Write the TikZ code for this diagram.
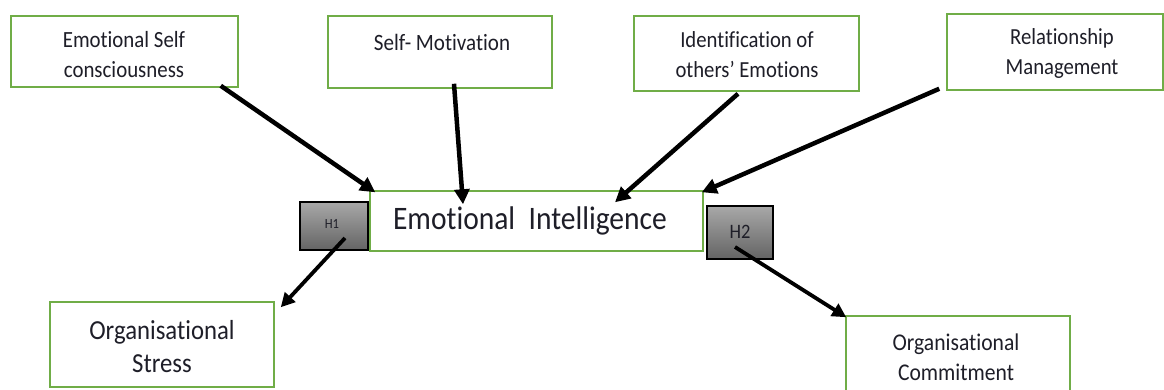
\documentclass[tikz,border=0pt]{standalone}
\usepackage{fontspec}
\setmainfont{Carlito}[FakeStretch=0.9, Ligatures=NoCommon]
\usetikzlibrary{arrows.meta}
\definecolor{boxgreen}{RGB}{112,173,71}
\definecolor{txtcol}{RGB}{30,30,40}
\definecolor{htop}{RGB}{168,168,168}
\definecolor{hbot}{RGB}{100,100,100}
\tikzset{
  gbox/.style={draw=boxgreen, line width=1.5pt, fill=white, inner sep=0pt},
  hbox/.style={draw=black, line width=1.6pt, top color=htop, bottom color=hbot, inner sep=0pt},
  lbl/.style={inner sep=0pt, align=center, text=txtcol},
  bigarrow/.style={line width=4.5pt, -{Triangle[length=15pt,width=15pt]}},
  harrow/.style={line width=3.8pt, -{Triangle[length=14pt,width=14pt]}},
}
\begin{document}
\begin{tikzpicture}[x=1pt,y=-1pt]
\useasboundingbox (0,0) rectangle (1164,389);
\clip (0,0) rectangle (1164,389);
% boxes
\node[gbox, minimum width=227pt, minimum height=71pt] (b1) at (124.5,51.5) {};
\node[gbox, minimum width=224pt, minimum height=72pt] (b2) at (440,52) {};
\node[gbox, minimum width=225pt, minimum height=75pt] (b3) at (746.5,53.5) {};
\node[gbox, minimum width=216pt, minimum height=76pt] (b4) at (1055,52) {};
\node[gbox, minimum width=333pt, minimum height=60pt] (ei) at (536.5,221) {};
\node[hbox, minimum width=68pt, minimum height=48pt] (h1) at (334,226) {};
\node[hbox, minimum width=66pt, minimum height=53pt] (h2) at (740,232.5) {};
\node[gbox, minimum width=224pt, minimum height=85pt] (os) at (162,344.5) {};
\node[gbox, minimum width=224pt, minimum height=80pt] (oc) at (958,356) {};
% texts
\node[lbl, font=\fontsize{23.2}{30}\selectfont] (t1) at (124,55) {Emotional Self\\consciousness};
\node[lbl, font=\fontsize{23.4}{30}\selectfont, anchor=base] (t2) at (442,50) {Self- Motivation};
\node[lbl, font=\fontsize{23}{30}\selectfont] (t3) at (747,55) {Identification of\\others’ Emotions};
\node[lbl, font=\fontsize{23}{30}\selectfont] (t4) at (1062,53) {Relationship\\Management};
\node[lbl, font=\fontsize{32.8}{34}\selectfont, anchor=base] (t5) at (530,229) {Emotional\ \ Intelligence};
\node[lbl, font=\fontsize{14}{14}\selectfont, anchor=base] (t6) at (332,228) {H1};
\node[lbl, font=\fontsize{20.5}{22}\selectfont, anchor=base] (t7) at (740,238) {H2};
\node[lbl, font=\fontsize{27.5}{33}\selectfont] (t8) at (162,347) {Organisational\\Stress};
\node[lbl, font=\fontsize{24}{30}\selectfont] (t9) at (956,357) {Organisational\\Commitment};
% arrows
\draw[bigarrow] ([shift={(-18,-2)}]b1.south east) -- ([shift={(6,2)}]ei.north west);
\draw[bigarrow] ([shift={(14,-5)}]b2.south) -- ([shift={(-73.5,14)}]ei.north);
\draw[bigarrow] ([shift={(-8.5,2)}]b3.south) -- ([shift={(78.5,12)}]ei.north);
\draw[bigarrow] ([shift={(-7,-2)}]b4.south west) -- ([shift={(-2,2)}]ei.north east);
\draw[harrow] ([shift={(11,12)}]h1.center) -- ([shift={(6,6)}]os.north east);
\draw[harrow] ([shift={(-5,14.5)}]h2.center) -- ([shift={(1,2)}]oc.north west);
\end{tikzpicture}
\end{document}
